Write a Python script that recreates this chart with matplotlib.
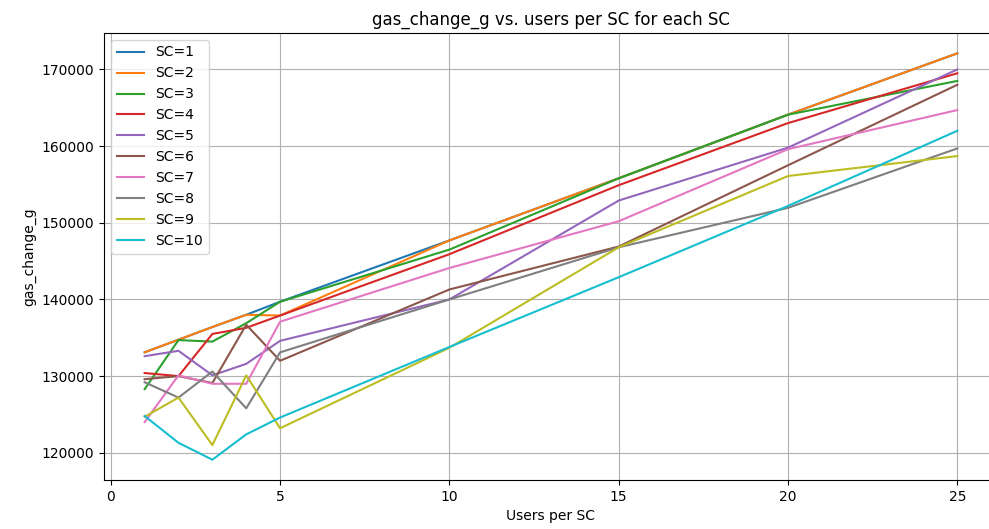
import matplotlib.pyplot as plt
import numpy as np

users = [1, 2, 3, 4, 5, 10, 15, 20, 25]

# gas_change_g per SC count
gas = {
    1: [133100, 134750, 136400, 138000, 139700, 147700, 155800, 164100, 172100],
    2: [133100, 134750, 136400, 138000, 137900, 147700, 155800, 164100, 172100],
    3: [128300, 134700, 134500, 136900, 139700, 146500, 155800, 164100, 168500],
    4: [130400, 130000, 135500, 136300, 137900, 145900, 154900, 163000, 169500],
    5: [132600, 133300, 130100, 131600, 134600, 140000, 152900, 159800, 170000],
    6: [129600, 130000, 129100, 136700, 132000, 141300, 146900, 157500, 168000],
    7: [124000, 130100, 129000, 129000, 137100, 144100, 150200, 159600, 164700],
    8: [129200, 127200, 130600, 125800, 133100, 140000, 146800, 151950, 159700],
    9: [124700, 127200, 121000, 130100, 123200, 133700, 146800, 156100, 158700],
    10: [124800, 121300, 119100, 122400, 124600, 133800, 142900, 152200, 162000],
}

fig = plt.figure(figsize=(9.89, 5.29), dpi=100)
ax = fig.add_axes([104 / 989, 49 / 529, 894 / 989, 447 / 529])

for sc, vals in gas.items():
    ax.plot(users, vals, label=f'SC={sc}')

ax.set_title('gas_change_g vs. users per SC for each SC')
ax.set_xlabel('Users per SC')
ax.set_ylabel('gas_change_g')
ax.grid(True)
ax.legend(loc='upper left')

fig.savefig('out.png', dpi=100)
